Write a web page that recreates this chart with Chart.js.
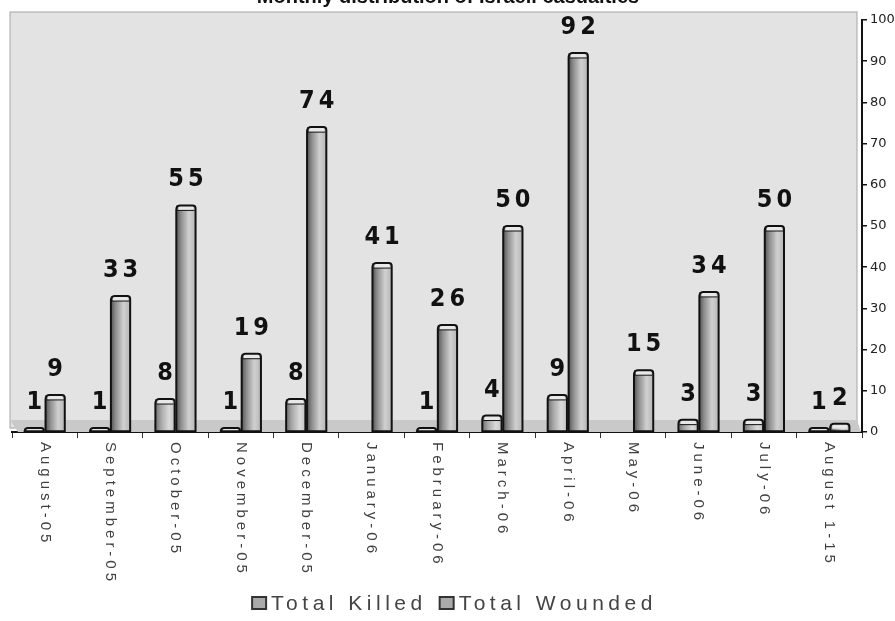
<!DOCTYPE html>
<html>
<head>
<meta charset="utf-8">
<script src="https://cdn.jsdelivr.net/npm/chart.js@4.4.0/dist/chart.umd.min.js"></script>
<style>
    html, body { margin: 0; padding: 0; background: #fff; }
    #wrap { width: 895px; height: 621px; }
</style>
</head>
<body>
<div id="wrap"><canvas id="casualtiesChart"></canvas></div>
<script>
const chartTitle = "Monthly distribution of Israeli casualties";
const months = ["August-05", "September-05", "October-05", "November-05", "December-05", "January-06",
    "February-06", "March-06", "April-06", "May-06", "June-06", "July-06", "August 1-15"];
const totalKilled = [1, 1, 8, 1, 8, 0, 1, 4, 9, 0, 3, 3, 1];
const totalWounded = [9, 33, 55, 19, 74, 41, 26, 50, 92, 15, 34, 50, 2];
const seriesNames = ["Total Killed", "Total Wounded"];
const yMax = 100;
const yStep = 10;

// back wall + floor of the pseudo-3D plot
const wallPlugin = {
    id: "wall",
    beforeDatasetsDraw(chart) {
        const { ctx, chartArea: a } = chart;
        ctx.save();
        ctx.fillStyle = "#e3e3e3";
        ctx.fillRect(a.left - 2, a.top - 8, a.right - a.left - 3, a.bottom - a.top + 4);
        ctx.strokeStyle = "#a5a5a5";
        ctx.lineWidth = 1;
        ctx.strokeRect(a.left - 2, a.top - 8, a.right - a.left - 3, a.bottom - a.top + 4);
        ctx.fillStyle = "#c9c9c9";
        ctx.beginPath();
        ctx.moveTo(a.left - 2, a.bottom - 12);
        ctx.lineTo(a.right - 5, a.bottom - 12);
        ctx.lineTo(a.right - 1, a.bottom);
        ctx.lineTo(a.left + 6, a.bottom);
        ctx.closePath();
        ctx.fill();
        ctx.restore();
    }
};

// shaded bars and value labels on top of the library's bars
const barsPlugin = {
    id: "bars3d",
    afterDatasetsDraw(chart) {
        const ctx = chart.ctx;
        ctx.save();
        chart.data.datasets.forEach((ds, di) => {
            const meta = chart.getDatasetMeta(di);
            meta.data.forEach((bar, i) => {
                const v = ds.data[i];
                if (!v) return;
                const { x, y, base, width } = bar.getProps(["x", "y", "base", "width"], true);
                const l = x - width / 2;
                const g = ctx.createLinearGradient(l, 0, l + width, 0);
                if (di === 0) {
                    g.addColorStop(0, "#707070");
                    g.addColorStop(0.3, "#a8a8a8");
                    g.addColorStop(0.7, "#dadada");
                    g.addColorStop(1, "#c4c4c4");
                } else {
                    g.addColorStop(0, "#555");
                    g.addColorStop(0.25, "#8e8e8e");
                    g.addColorStop(0.65, "#d0d0d0");
                    g.addColorStop(1, "#b6b6b6");
                }
                ctx.fillStyle = g;
                ctx.fillRect(l, y, width, base - y);
                const capH = Math.min(5, base - y);
                ctx.fillStyle = "#e8e8e8";
                ctx.fillRect(l + 2, y, width - 4, capH);
                ctx.strokeStyle = "#111";
                ctx.lineWidth = 2;
                ctx.beginPath();
                ctx.roundRect(l, y, width, base - y, [4, 3, 0, 0]);
                ctx.stroke();
                if (base - y > 8) {
                    ctx.lineWidth = 1;
                    ctx.beginPath();
                    ctx.moveTo(l + 1, y + capH);
                    ctx.lineTo(l + width - 1, y + capH);
                    ctx.stroke();
                }

                ctx.fillStyle = "#111";
                ctx.font = 'bold 25px "Liberation Sans Narrow", "DejaVu Sans Condensed", sans-serif';
                ctx.letterSpacing = "4px";
                ctx.textAlign = "center";
                ctx.textBaseline = "alphabetic";
                ctx.fillText(String(v), x + 2, y - 19);
                ctx.letterSpacing = "0px";
            });
        });
        ctx.restore();
    }
};

// title (cut at the top edge), vertical month labels, legend
const textPlugin = {
    id: "texts",
    afterDraw(chart) {
        const ctx = chart.ctx;
        const xs = chart.scales.x;
        ctx.save();
        ctx.fillStyle = "#111";
        ctx.font = 'bold 20px "Liberation Sans", Arial, sans-serif';
        ctx.textAlign = "center";
        ctx.textBaseline = "alphabetic";
        ctx.fillText(chartTitle, 448, 3);

        ctx.fillStyle = "#404040";
        ctx.font = '15px "Liberation Sans", Arial, sans-serif';
        ctx.letterSpacing = "4px";
        months.forEach((m, i) => {
            const px = xs.getPixelForTick(i);
            ctx.save();
            ctx.translate(px, xs.top + 10);
            ctx.rotate(Math.PI / 2);
            ctx.textAlign = "left";
            ctx.textBaseline = "middle";
            ctx.fillText(m, 0, 0);
            ctx.restore();
        });

        // legend
        ctx.font = '21px "Liberation Sans", Arial, sans-serif';
        ctx.letterSpacing = "4.5px";
        ctx.textAlign = "left";
        ctx.textBaseline = "middle";
        const ly = 603;
        const gap = 12;
        const widths = seriesNames.map(n => 20 + ctx.measureText(n).width);
        let lx = 455 - (widths[0] + widths[1] + gap) / 2;
        seriesNames.forEach((n, i) => {
            ctx.fillStyle = "#aaa";
            ctx.fillRect(lx, ly - 6, 14, 12);
            ctx.strokeStyle = "#333";
            ctx.lineWidth = 2;
            ctx.strokeRect(lx, ly - 6, 14, 12);
            ctx.fillStyle = "#444";
            ctx.fillText(n, lx + 19, ly + 1);
            lx += widths[i] + gap;
        });
        ctx.restore();
    }
};

new Chart(document.getElementById("casualtiesChart"), {
    type: "bar",
    data: {
        labels: months,
        datasets: [
            { label: seriesNames[0], data: totalKilled, backgroundColor: "#aaa", borderColor: "#111", borderWidth: 1 },
            { label: seriesNames[1], data: totalWounded, backgroundColor: "#aaa", borderColor: "#111", borderWidth: 1 }
        ]
    },
    options: {
        responsive: true,
        maintainAspectRatio: false,
        animation: false,
        layout: { padding: { top: 20, left: 12, right: 0, bottom: 0 } },
        datasets: { bar: { categoryPercentage: 0.64, barPercentage: 0.92 } },
        plugins: { legend: { display: false }, tooltip: { enabled: false } },
        scales: {
            x: {
                ticks: { display: false },
                grid: { offset: true, drawOnChartArea: false, tickLength: 6, color: "#333" },
                border: { color: "#111", width: 2 },
                afterFit: s => { s.height = 189; }
            },
            y: {
                position: "right",
                min: 0,
                max: yMax,
                ticks: {
                    stepSize: yStep,
                    color: "#222",
                    padding: 3,
                    font: { size: 13, family: '"DejaVu Sans", "Liberation Sans", sans-serif' }
                },
                grid: { drawOnChartArea: false, tickLength: 5, color: "#111", lineWidth: 1.5 },
                border: { color: "#111", width: 2 },
                afterFit: s => { s.width = 33; }
            }
        }
    },
    plugins: [wallPlugin, barsPlugin, textPlugin]
});
</script>
</body>
</html>
